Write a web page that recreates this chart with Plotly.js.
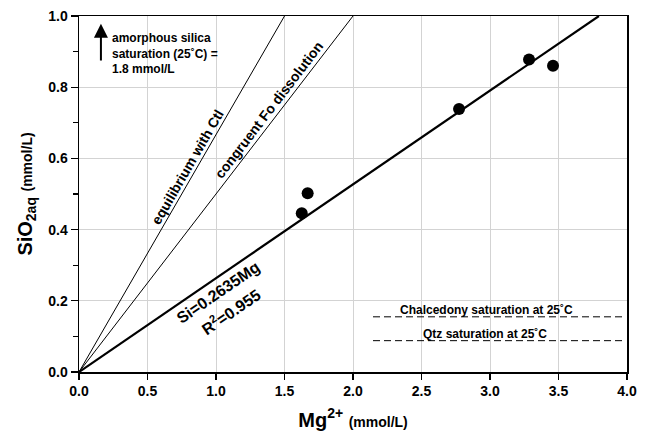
<!DOCTYPE html>
<html>
<head>
<meta charset="utf-8">
<script src="https://cdn.plot.ly/plotly-3.0.1.min.js"></script>
<style>html,body{margin:0;padding:0;background:#fff;}#chart{width:646px;height:438px;}</style>
</head>
<body>
<div id="chart"></div>
<script>
// Measured samples
const mgValues = [1.626, 1.669, 2.774, 3.285, 3.46];
const siValues = [0.446, 0.502, 0.739, 0.878, 0.860];

// Reference lines (end points)
const ctlX = [0, 1.5];      const ctlY = [0, 1.0];
const foX = [0, 2.0];       const foY = [0, 1.0];
const fitSlope = 0.2635;
const fitX = [0, 1 / fitSlope];
const fitY = fitX.map(v => v * fitSlope);

// Saturation levels
const chalcX = [2.146, 3.98]; const chalcY = [0.155, 0.155];
const qtzX = [2.146, 3.98];   const qtzY = [0.088, 0.088];

const xTicks = [0, 0.5, 1, 1.5, 2, 2.5, 3, 3.5, 4];
const yTicks = [0, 0.2, 0.4, 0.6, 0.8, 1.0];

const FONT = 'Liberation Sans, Arial, Helvetica, sans-serif';

const traces = [
  {x: ctlX, y: ctlY, mode: 'lines', line: {color: '#000', width: 1}, hoverinfo: 'skip'},
  {x: foX, y: foY, mode: 'lines', line: {color: '#000', width: 1}, hoverinfo: 'skip'},
  {x: fitX, y: fitY, mode: 'lines', line: {color: '#000', width: 2.2}, hoverinfo: 'skip'},
  {x: chalcX, y: chalcY, mode: 'lines', line: {color: '#000', width: 1, dash: '7px,4px'}, hoverinfo: 'skip'},
  {x: qtzX, y: qtzY, mode: 'lines', line: {color: '#000', width: 1, dash: '7px,4px'}, hoverinfo: 'skip'},
  {x: mgValues, y: siValues, mode: 'markers', marker: {color: '#000', size: 12}}
];

const bold = (s) => ({family: FONT, size: s, color: '#000', weight: 'bold'});

const layout = {
  width: 646, height: 438,
  margin: {l: 79, r: 19, t: 16, b: 66},
  paper_bgcolor: '#fff', plot_bgcolor: '#fff',
  showlegend: false,
  font: {family: FONT, color: '#000'},
  xaxis: {
    range: [0, 4], tickvals: xTicks, ticktext: xTicks.map(v => v.toFixed(1)),
    ticks: 'outside', ticklen: 6, tickwidth: 1.2, tickcolor: '#000',
    showline: true, linecolor: '#000', linewidth: 1.5, mirror: true,
    showgrid: true, gridcolor: '#d3d3d3', gridwidth: 1, zeroline: false,
    tickfont: bold(14),
    title: {text: 'Mg<sup>2+</sup> <span style="font-size:14px">(mmol/L)</span>', font: bold(20), standoff: 14},
    automargin: false
  },
  yaxis: {
    range: [0, 1], tickvals: yTicks, ticktext: yTicks.map(v => v.toFixed(1)),
    ticks: 'outside', ticklen: 7, tickwidth: 1.2, tickcolor: '#000',
    minor: {dtick: 0.1, ticks: 'outside', ticklen: 5, tickcolor: '#000', showgrid: false},
    showline: true, linecolor: '#000', linewidth: 1.5, mirror: true,
    showgrid: true, gridcolor: '#d3d3d3', gridwidth: 1, zeroline: false,
    tickfont: bold(14),
    title: {text: 'SiO<sub>2aq</sub> <span style="font-size:14px">(mmol/L)</span>', font: bold(20), standoff: 10},
    automargin: false
  },
  annotations: [
    {x: 0.16, y: 0.978, ax: 0.16, ay: 0.871, axref: 'x', ayref: 'y', xref: 'x', yref: 'y',
     text: '', showarrow: true, arrowhead: 2, arrowsize: 1.4, arrowwidth: 2, arrowcolor: '#000'},
    {x: 0.226, y: 0.896, xref: 'x', yref: 'y', xanchor: 'left', yanchor: 'middle', align: 'left',
     text: 'amorphous silica<br>saturation (25˚C) =<br>1.8 mmol/L', showarrow: false, font: bold(12)},
    {x: 0.79, y: 0.577, xref: 'x', yref: 'y', text: 'equilibrium with Ctl', textangle: -60,
     showarrow: false, font: bold(14)},
    {x: 1.385, y: 0.736, xref: 'x', yref: 'y', text: 'congruent Fo dissolution', textangle: -52.5,
     showarrow: false, font: bold(14)},
    {x: 1.015, y: 0.223, xref: 'x', yref: 'y', text: 'Si=0.2635Mg', textangle: -34.4,
     showarrow: false, font: bold(16)},
    {x: 1.109, y: 0.171, xref: 'x', yref: 'y', text: 'R<sup>2</sup>=0.955', textangle: -34.4,
     showarrow: false, font: bold(16)},
    {x: 2.978, y: 0.155, xref: 'x', yref: 'y', yanchor: 'bottom', yshift: -2,
     text: 'Chalcedony saturation at 25˚C', showarrow: false, font: bold(12)},
    {x: 2.96, y: 0.088, xref: 'x', yref: 'y', yanchor: 'bottom', yshift: -2,
     text: 'Qtz saturation at 25˚C', showarrow: false, font: bold(12)}
  ]
};

Plotly.newPlot('chart', traces, layout, {displayModeBar: false, staticPlot: true});
</script>
</body>
</html>
